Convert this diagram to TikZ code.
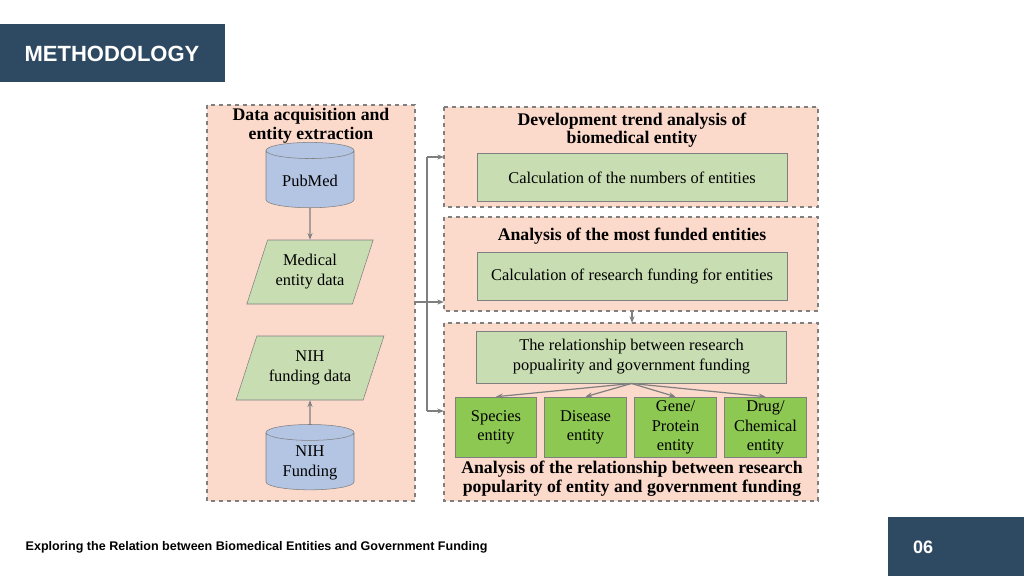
\documentclass[tikz,border=0pt]{standalone}
\usepackage{fontspec}
\setmainfont{Liberation Serif}
\setsansfont{Liberation Sans}
\usetikzlibrary{shapes.geometric,arrows.meta}
\definecolor{hdr}{HTML}{2E4A62}
\definecolor{panel}{HTML}{FBD9CB}
\definecolor{lgreen}{HTML}{C8DDB2}
\definecolor{bgreen}{HTML}{8DC852}
\definecolor{cyl}{HTML}{B3C5E3}
\definecolor{edge}{HTML}{7F7F7F}
\tikzset{
  panel/.style={draw=edge, dashed, line width=0.9pt, fill=panel},
  calc box/.style={draw=edge, fill=lgreen, line width=0.7pt, minimum width=232.5pt, align=center, font=\fontsize{12.3}{15}\selectfont},
  ent/.style={draw=edge, fill=bgreen, line width=0.7pt, minimum width=61pt, minimum height=45.5pt, inner sep=1pt, align=center, font=\fontsize{12.3}{14.5}\selectfont},
  db/.style={cylinder, shape border rotate=90, aspect=0.25, draw=edge, fill=cyl, minimum width=66pt, minimum height=49pt, align=center, font=\fontsize{12.3}{15}\selectfont},
  io/.style={trapezium, trapezium left angle=72, trapezium right angle=108, draw=edge, fill=lgreen, minimum width=40pt, minimum height=48pt, inner xsep=-4pt, align=center, font=\fontsize{12.3}{15}\selectfont},
  ttl/.style={align=center, font=\bfseries\fontsize{13.3}{14}\selectfont},
  flow/.style={draw=edge, line width=0.9pt, -{Stealth[length=5pt]}}
}
\begin{document}
\begin{tikzpicture}[x=0.75pt,y=0.75pt,yscale=-1,xscale=1]
\path[use as bounding box] (0,0) rectangle (1024,576);

% Header and footer
\fill[hdr] (0,24) rectangle (225,82);
\node[text=white, font=\sffamily\bfseries\fontsize{16.5}{16.5}\selectfont] (head) at (112,54) {METHODOLOGY};
\fill[hdr] (888,517) rectangle (1024,576);
\node[text=white, font=\sffamily\bfseries\fontsize{13.5}{13.5}\selectfont] (page) at (923,547) {06};
\node[anchor=west, font=\sffamily\bfseries\fontsize{9.4}{9.4}\selectfont] (foot) at (21,547) {Exploring the Relation between Biomedical Entities and Government Funding};

% Panels
\draw[panel] (207,105) rectangle (415,501);
\draw[panel] (444,107) rectangle (818,207);
\draw[panel] (444,217) rectangle (818,311);
\draw[panel] (444,323) rectangle (818,501);
\coordinate (p2s) at (632,311);
\coordinate (p3n) at (632,323);

% Left column
\node[ttl] (ltitle) at (311,126) {Data acquisition and\\entity extraction};
\node[db] (pubmed) at (310,181) {PubMed};
\node[io] (medical) at (310,272) {Medical\\entity data};
\node[io] (nihdata) at (310,368) {NIH\\funding data};
\node[db] (nihfund) at (310,463) {NIH\\Funding};
\draw[flow] (pubmed) -- (medical);
\draw[flow] (nihfund) -- (nihdata);

% Right column
\node[ttl] (t1) at (632,130) {Development trend analysis of\\biomedical entity};
\node[calc box, minimum height=36.5pt] (count) at (632,177.5) {Calculation of the numbers of entities};
\node[ttl] (t2) at (632,236) {Analysis of the most funded entities};
\node[calc box, minimum height=36.5pt] (fund) at (632,276.5) {Calculation of research funding for entities};
\node[calc box, minimum height=39pt] (rel) at (631.5,357) {The relationship between research\\popualirity and government funding};
\node[ent] (species) at (496,427.5) {Species\\entity};
\node[ent] (disease) at (585.5,427.5) {Disease\\entity};
\node[ent] (gene) at (675.5,427.5) {Gene/\\Protein\\entity};
\node[ent] (drug) at (765.5,427.5) {Drug/\\Chemical\\entity};
\node[ttl] (t3) at (632,479) {Analysis of the relationship between research\\popularity of entity and government funding};
\draw[flow] (p2s) -- (p3n);
\foreach \e in {species,disease,gene,drug}
  \draw[flow] (rel.south) -- (\e.north);

% Bracket to the right panels
\coordinate (lout) at (415,302);
\coordinate (bar) at (427,302);
\coordinate (bt) at (427,157);
\coordinate (bb) at (427,411);
\draw[draw=edge, line width=0.9pt] (lout) -- (bar) (bt) -- (bb);
\draw[flow] (bt) -- (444,157);
\draw[flow] (bar) -- (444,302);
\draw[flow] (bb) -- (444,411);
\end{tikzpicture}
\end{document}
